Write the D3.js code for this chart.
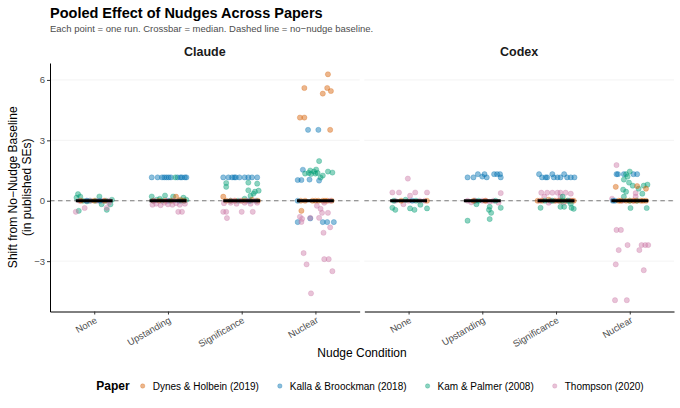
<!DOCTYPE html>
<html>
<head>
<meta charset="utf-8">
<script src="https://cdn.jsdelivr.net/npm/d3@7"></script>
<style>
  body { margin: 0; background: #fff; }
  svg text { font-family: "Liberation Sans", Arial, Helvetica, sans-serif; }
</style>
</head>
<body>
<div id="chart"></div>
<script>
/* DATA */
const models = ["Claude", "Codex"];
const conditions = ["None", "Upstanding", "Significance", "Nuclear"];
const papers = ["Dynes & Holbein (2019)", "Kalla & Broockman (2018)", "Kam & Palmer (2008)", "Thompson (2020)"];
const paperColors = ["#D55E00", "#0072B2", "#009E73", "#CC79A7"];
const yTicks = [-3, 0, 3, 6];

// each row: [condition, paper index, jitter (share of one category step), shift in published SEs]
const claudePoints = [
  // None
  ["None", 2, -0.22, 0.33], ["None", 2, -0.19, 0.21], ["None", 2, -0.24, 0.15], ["None", 2, 0.07, 0.21],
  ["None", 2, -0.10, -0.03], ["None", 2, 0.10, -0.17], ["None", 2, 0.17, -0.45], ["None", 2, 0.22, -0.18],
  ["None", 2, -0.21, -0.5], ["None", 2, 0.16, 0], ["None", 2, -0.06, 0], ["None", 2, 0.24, 0.05],
  ["None", 2, 0.02, 0], ["None", 2, -0.15, 0],
  ["None", 3, -0.25, -0.55], ["None", 3, -0.13, -0.36], ["None", 3, 0.17, -0.35], ["None", 3, -0.2, 0],
  ["None", 3, -0.05, 0], ["None", 3, 0.05, 0], ["None", 3, 0.2, 0], ["None", 3, 0.12, 0],
  ["None", 3, 0.2, -0.1], ["None", 3, -0.1, 0],
  ["None", 0, -0.18, 0], ["None", 0, 0.0, 0], ["None", 0, 0.14, 0],
  ["None", 1, -0.1, 0], ["None", 1, 0.08, 0],
  // Upstanding
  ["Upstanding", 1, -0.22, 1.16], ["Upstanding", 1, -0.14, 1.16], ["Upstanding", 1, -0.08, 1.16], ["Upstanding", 1, -0.05, 1.16],
  ["Upstanding", 1, -0.02, 1.16], ["Upstanding", 1, 0.01, 1.16], ["Upstanding", 1, 0.04, 1.16], ["Upstanding", 1, 0.13, 1.16],
  ["Upstanding", 1, 0.17, 1.16], ["Upstanding", 1, 0.19, 1.16], ["Upstanding", 1, 0.23, 1.16], ["Upstanding", 1, 0.25, 1.16],
  ["Upstanding", 1, -0.2, 0], ["Upstanding", 1, 0.0, 0], ["Upstanding", 1, 0.15, 0], ["Upstanding", 1, 0.22, 0],
  ["Upstanding", 2, 0.10, 1.16], ["Upstanding", 2, -0.22, 0.21], ["Upstanding", 2, -0.04, 0.26], ["Upstanding", 2, 0.07, 0.21],
  ["Upstanding", 2, 0.21, 0.15], ["Upstanding", 2, -0.11, 0.1], ["Upstanding", 2, -0.15, 0.05], ["Upstanding", 2, 0.03, 0],
  ["Upstanding", 2, 0.25, 0.05], ["Upstanding", 2, -0.08, 0], ["Upstanding", 2, 0.18, 0],
  ["Upstanding", 0, 0.11, 0.2], ["Upstanding", 0, 0.17, 0.05], ["Upstanding", 0, -0.04, 0], ["Upstanding", 0, -0.2, 0],
  ["Upstanding", 0, -0.12, 0], ["Upstanding", 0, 0.05, 0], ["Upstanding", 0, 0.22, 0],
  ["Upstanding", 3, -0.21, -0.2], ["Upstanding", 3, -0.16, -0.15], ["Upstanding", 3, -0.1, -0.22], ["Upstanding", 3, -0.05, -0.1],
  ["Upstanding", 3, 0.0, -0.18], ["Upstanding", 3, 0.06, -0.2], ["Upstanding", 3, 0.11, -0.12], ["Upstanding", 3, 0.16, -0.2],
  ["Upstanding", 3, 0.23, -0.15], ["Upstanding", 3, 0.14, -0.55], ["Upstanding", 3, 0.19, -0.55], ["Upstanding", 3, -0.18, 0],
  ["Upstanding", 3, 0.08, 0], ["Upstanding", 3, -0.02, 0],
  // Significance
  ["Significance", 1, -0.25, 1.16], ["Significance", 1, -0.18, 1.16], ["Significance", 1, -0.13, 1.16], ["Significance", 1, -0.1, 1.16],
  ["Significance", 1, -0.08, 1.16], ["Significance", 1, -0.03, 1.16], ["Significance", 1, 0.04, 1.16], ["Significance", 1, 0.09, 1.16],
  ["Significance", 1, 0.14, 1.16], ["Significance", 1, 0.21, 1.16], ["Significance", 1, -0.15, 0], ["Significance", 1, 0.1, 0],
  ["Significance", 2, -0.21, 0.88], ["Significance", 2, -0.21, 0.69], ["Significance", 2, 0.09, 0.9], ["Significance", 2, 0.09, 0.52],
  ["Significance", 2, 0.21, 0.85], ["Significance", 2, 0.18, 0.45], ["Significance", 2, 0.16, 0.35], ["Significance", 2, 0.12, 0.25],
  ["Significance", 2, 0.23, 0.5], ["Significance", 2, 0.04, 0.1], ["Significance", 2, -0.05, 0], ["Significance", 2, 0.2, 0],
  ["Significance", 2, 0.12, 0],
  ["Significance", 0, -0.25, 0.2], ["Significance", 0, -0.21, 0], ["Significance", 0, -0.09, 0], ["Significance", 0, 0.05, 0],
  ["Significance", 0, 0.14, 0.05], ["Significance", 0, -0.15, 0], ["Significance", 0, 0.0, 0], ["Significance", 0, 0.22, 0],
  ["Significance", 3, -0.25, -0.55], ["Significance", 3, -0.21, -0.55], ["Significance", 3, -0.2, -0.86], ["Significance", 3, 0.0, -0.55],
  ["Significance", 3, 0.15, -0.55], ["Significance", 3, -0.24, -0.12], ["Significance", 3, -0.15, -0.1], ["Significance", 3, -0.07, -0.15],
  ["Significance", 3, 0.04, -0.1], ["Significance", 3, 0.12, -0.15], ["Significance", 3, 0.21, -0.1], ["Significance", 3, -0.1, 0],
  ["Significance", 3, 0.08, 0], ["Significance", 3, -0.02, 0], ["Significance", 3, 0.18, 0],
  // Nuclear
  ["Nuclear", 0, 0.17, 6.28], ["Nuclear", 0, -0.15, 5.6], ["Nuclear", 0, 0.16, 5.6], ["Nuclear", 0, 0.10, 5.32],
  ["Nuclear", 0, 0.21, 5.45], ["Nuclear", 0, -0.21, 4.13], ["Nuclear", 0, -0.15, 4.13], ["Nuclear", 0, 0.2, 3.52],
  ["Nuclear", 0, -0.19, -0.5], ["Nuclear", 0, -0.2, 0], ["Nuclear", 0, -0.14, 0], ["Nuclear", 0, -0.04, 0],
  ["Nuclear", 0, 0.04, 0], ["Nuclear", 0, 0.1, 0], ["Nuclear", 0, 0.16, 0], ["Nuclear", 0, 0.22, 0],
  ["Nuclear", 0, 0.0, 0], ["Nuclear", 0, 0.13, 0],
  ["Nuclear", 1, -0.10, 3.52], ["Nuclear", 1, 0.04, 3.52], ["Nuclear", 1, -0.17, 1.54], ["Nuclear", 1, -0.24, 1.03],
  ["Nuclear", 1, -0.19, 1.03], ["Nuclear", 1, -0.08, 1.05], ["Nuclear", 1, 0.05, 1.0], ["Nuclear", 1, -0.24, 0],
  ["Nuclear", 1, -0.24, -1.06], ["Nuclear", 1, 0.10, -1.06], ["Nuclear", 1, 0.16, -1.06], ["Nuclear", 1, 0.25, -1.06],
  ["Nuclear", 1, -0.07, -0.88],
  ["Nuclear", 2, 0.05, 1.97], ["Nuclear", 2, -0.14, 1.35], ["Nuclear", 2, -0.09, 1.38], ["Nuclear", 2, -0.06, 1.33],
  ["Nuclear", 2, -0.02, 1.45], ["Nuclear", 2, 0.0, 1.35], ["Nuclear", 2, 0.03, 1.38], ["Nuclear", 2, 0.07, 1.15],
  ["Nuclear", 2, 0.1, 1.25], ["Nuclear", 2, 0.17, 1.45], ["Nuclear", 2, 0.23, 1.4], ["Nuclear", 2, 0.01, 1.55],
  ["Nuclear", 2, -0.07, 1.5],
  ["Nuclear", 3, -0.21, -0.8], ["Nuclear", 3, -0.19, -1.05], ["Nuclear", 3, -0.18, -0.9], ["Nuclear", 3, -0.07, -0.85],
  ["Nuclear", 3, 0.05, -0.85], ["Nuclear", 3, 0.09, -0.6], ["Nuclear", 3, 0.17, -0.6], ["Nuclear", 3, 0.2, -1.32],
  ["Nuclear", 3, 0.11, -1.59], ["Nuclear", 3, 0.02, -0.25], ["Nuclear", 3, 0.07, -0.4], ["Nuclear", 3, -0.16, -2.6],
  ["Nuclear", 3, -0.12, -3.16], ["Nuclear", 3, 0.12, -2.9], ["Nuclear", 3, 0.18, -2.9], ["Nuclear", 3, 0.23, -3.5],
  ["Nuclear", 3, -0.06, -4.6], ["Nuclear", 3, 0.2, 0], ["Nuclear", 3, 0.12, -0.1]
];

const codexPoints = [
  // None
  ["None", 3, -0.01, 1.1], ["None", 3, -0.22, 0.41], ["None", 3, -0.13, 0.41], ["None", 3, 0.09, 0.41],
  ["None", 3, 0.25, 0.41], ["None", 3, 0.02, 0.25], ["None", 3, -0.07, -0.17], ["None", 3, -0.18, 0],
  ["None", 3, 0.0, 0], ["None", 3, 0.15, 0], ["None", 3, 0.22, 0],
  ["None", 2, -0.22, -0.35], ["None", 2, -0.18, -0.45], ["None", 2, 0.02, -0.38], ["None", 2, 0.08, -0.45],
  ["None", 2, 0.25, -0.38], ["None", 2, 0.16, -0.2], ["None", 2, -0.2, 0], ["None", 2, -0.04, 0.05],
  ["None", 2, 0.1, 0],
  ["None", 0, 0.25, 0], ["None", 0, -0.1, 0],
  ["None", 1, 0.05, 0],
  // Upstanding
  ["Upstanding", 1, -0.2, 1.16], ["Upstanding", 1, -0.12, 1.16], ["Upstanding", 1, -0.06, 1.32], ["Upstanding", 1, 0.0, 1.2],
  ["Upstanding", 1, 0.03, 1.32], ["Upstanding", 1, 0.06, 1.16], ["Upstanding", 1, 0.16, 1.32], ["Upstanding", 1, 0.2, 1.32],
  ["Upstanding", 1, 0.24, 1.32], ["Upstanding", 1, 0.25, 1.16], ["Upstanding", 1, -0.1, 0],
  ["Upstanding", 3, 0.25, 0.38], ["Upstanding", 3, -0.2, 0], ["Upstanding", 3, -0.1, 0], ["Upstanding", 3, 0.05, 0],
  ["Upstanding", 3, 0.15, 0], ["Upstanding", 3, 0.22, -0.1], ["Upstanding", 3, -0.15, -0.08], ["Upstanding", 3, 0.1, -0.05],
  ["Upstanding", 3, 0.0, 0],
  ["Upstanding", 2, -0.2, -0.99], ["Upstanding", 2, 0.1, -0.91], ["Upstanding", 2, 0.1, -0.3], ["Upstanding", 2, 0.12, -0.6],
  ["Upstanding", 2, 0.09, -0.45], ["Upstanding", 2, -0.08, -0.17], ["Upstanding", 2, 0.25, -0.35], ["Upstanding", 2, -0.05, 0],
  ["Upstanding", 2, 0.18, 0],
  ["Upstanding", 0, 0.04, 0], ["Upstanding", 0, -0.12, 0],
  // Significance
  ["Significance", 1, -0.23, 1.32], ["Significance", 1, -0.19, 1.16], ["Significance", 1, -0.14, 1.16], ["Significance", 1, -0.12, 1.16],
  ["Significance", 1, -0.05, 1.32], ["Significance", 1, -0.03, 1.16], ["Significance", 1, 0.02, 1.16], ["Significance", 1, 0.06, 1.16],
  ["Significance", 1, 0.11, 1.32], ["Significance", 1, 0.15, 1.16], ["Significance", 1, 0.2, 1.16], ["Significance", 1, 0.25, 1.16],
  ["Significance", 1, -0.08, 0], ["Significance", 1, 0.18, 0], ["Significance", 1, 0.05, 0],
  ["Significance", 3, -0.2, 0.4], ["Significance", 3, -0.12, 0.4], ["Significance", 3, -0.05, 0.4], ["Significance", 3, 0.02, 0.4],
  ["Significance", 3, 0.06, 0.4], ["Significance", 3, 0.13, 0.4], ["Significance", 3, 0.2, 0.35], ["Significance", 3, -0.16, 0.2],
  ["Significance", 3, 0.06, 0.2], ["Significance", 3, -0.1, -0.1], ["Significance", 3, 0.1, -0.1], ["Significance", 3, -0.22, 0],
  ["Significance", 3, 0.0, 0], ["Significance", 3, 0.22, 0], ["Significance", 3, -0.06, 0], ["Significance", 3, 0.16, 0],
  ["Significance", 0, -0.19, 0], ["Significance", 0, -0.1, 0.05], ["Significance", 0, 0.13, 0], ["Significance", 0, 0.04, 0],
  ["Significance", 0, -0.02, 0], ["Significance", 0, 0.2, 0], ["Significance", 0, -0.25, 0], ["Significance", 0, 0.08, 0],
  ["Significance", 0, 0.24, 0],
  ["Significance", 2, -0.21, -0.35], ["Significance", 2, 0.06, -0.3], ["Significance", 2, 0.11, -0.3], ["Significance", 2, 0.21, -0.35],
  ["Significance", 2, 0.24, -0.4], ["Significance", 2, 0.09, 0.2], ["Significance", 2, 0.2, -0.15], ["Significance", 2, 0.09, 0],
  ["Significance", 2, -0.15, 0], ["Significance", 2, -0.05, 0], ["Significance", 2, 0.16, 0],
  // Nuclear
  ["Nuclear", 3, -0.18, 1.77], ["Nuclear", 3, 0.08, 0.38], ["Nuclear", 3, -0.18, -1.45], ["Nuclear", 3, -0.12, -1.45],
  ["Nuclear", 3, -0.03, -2.2], ["Nuclear", 3, 0.16, -2.2], ["Nuclear", 3, 0.21, -2.2], ["Nuclear", 3, 0.25, -2.2],
  ["Nuclear", 3, -0.15, -2.45], ["Nuclear", 3, 0.13, -2.45], ["Nuclear", 3, -0.19, -3.16], ["Nuclear", 3, 0.19, -3.45],
  ["Nuclear", 3, -0.2, -4.94], ["Nuclear", 3, -0.04, -4.94], ["Nuclear", 3, -0.24, 0.1], ["Nuclear", 3, 0.08, 0.2],
  ["Nuclear", 3, 0.05, 0], ["Nuclear", 3, -0.1, 0],
  ["Nuclear", 1, -0.18, 1.32], ["Nuclear", 1, -0.16, 1.32], ["Nuclear", 1, -0.08, 1.32], ["Nuclear", 1, 0.05, 1.32],
  ["Nuclear", 1, 0.1, 1.32], ["Nuclear", 1, -0.23, 0], ["Nuclear", 1, -0.2, 0],
  ["Nuclear", 2, 0.0, 1.45], ["Nuclear", 2, -0.05, 1.32], ["Nuclear", 2, -0.03, 1.2], ["Nuclear", 2, -0.08, 1.05],
  ["Nuclear", 2, -0.01, 0.9], ["Nuclear", 2, 0.04, 0.75], ["Nuclear", 2, -0.09, 0.55], ["Nuclear", 2, -0.05, 0.45],
  ["Nuclear", 2, -0.08, 0.2], ["Nuclear", 2, 0.19, 0.75], ["Nuclear", 2, 0.24, 0.8], ["Nuclear", 2, 0.17, 0.35],
  ["Nuclear", 2, 0.01, -0.36], ["Nuclear", 2, 0.23, -0.36], ["Nuclear", 2, 0.12, 0.6], ["Nuclear", 2, 0.0, 0],
  ["Nuclear", 2, 0.1, 0],
  ["Nuclear", 0, -0.19, 0.69], ["Nuclear", 0, 0.1, 0.73], ["Nuclear", 0, 0.22, 0.6], ["Nuclear", 0, -0.15, 0],
  ["Nuclear", 0, -0.05, 0], ["Nuclear", 0, 0.05, 0], ["Nuclear", 0, 0.15, 0], ["Nuclear", 0, 0.22, 0],
  ["Nuclear", 0, -0.12, 0], ["Nuclear", 0, 0.0, 0], ["Nuclear", 0, 0.18, 0], ["Nuclear", 0, 0.09, 0]
];

const pointsByModel = [claudePoints, codexPoints];

/* LAYOUT */
const width = 680,
  height = 408,
  margin = { top: 63, bottom: 96.5, left: 50, right: 6 },
  panelGap = 4.7,
  panelW = (width - margin.left - margin.right - panelGap) / 2;

const svg = d3.select("#chart")
  .append("svg")
  .attr("width", width)
  .attr("height", height);

// y scale shared by both panels, 5% padding like ggplot
const allShifts = claudePoints.concat(codexPoints).map(d => d[3]);
const [yMin, yMax] = d3.extent(allShifts);
const yPad = (yMax - yMin) * 0.05;
const yScale = d3.scaleLinear()
  .domain([yMin - yPad, yMax + yPad])
  .range([height - margin.bottom, margin.top]);

/* TITLES */
svg.append("text")
  .attr("x", 50).attr("y", 18)
  .attr("font-size", 14.5).attr("font-weight", "bold").attr("fill", "#000")
  .text("Pooled Effect of Nudges Across Papers");

svg.append("text")
  .attr("x", 50).attr("y", 32)
  .attr("font-size", 9.5).attr("fill", "#4d4d4d")
  .text("Each point = one run. Crossbar = median. Dashed line = no\u2212nudge baseline.");

/* PANELS */
models.forEach((model, i) => {
  const g = svg.append("g")
    .attr("transform", `translate(${margin.left + i * (panelW + panelGap)},0)`);

  const xScale = d3.scalePoint()
    .domain(conditions)
    .range([0, panelW])
    .padding(0.6);
  const step = xScale.step();

  // strip label
  g.append("text")
    .attr("x", panelW / 2).attr("y", 56)
    .attr("text-anchor", "middle")
    .attr("font-size", 12.5).attr("font-weight", "bold").attr("fill", "#1a1a1a")
    .text(model);

  // grid
  g.selectAll("line.grid")
    .data(yTicks)
    .join("line")
    .attr("class", "grid")
    .attr("x1", 0).attr("x2", panelW)
    .attr("y1", d => yScale(d)).attr("y2", d => yScale(d))
    .attr("stroke", "#ebebeb").attr("stroke-width", 0.6);

  // no-nudge baseline
  g.append("line")
    .attr("x1", 0).attr("x2", panelW)
    .attr("y1", yScale(0)).attr("y2", yScale(0))
    .attr("stroke", "#7a7a7a").attr("stroke-width", 1.2)
    .attr("stroke-dasharray", "4.5,3.5");

  // points
  const pts = pointsByModel[i];
  g.selectAll("circle.pt")
    .data(pts)
    .join("circle")
    .attr("class", "pt")
    .attr("cx", d => xScale(d[0]) + d[2] * step)
    .attr("cy", d => yScale(d[3]))
    .attr("r", 2.6)
    .attr("fill", d => paperColors[d[1]])
    .attr("fill-opacity", 0.45)
    .attr("stroke", d => paperColors[d[1]])
    .attr("stroke-opacity", 0.45)
    .attr("stroke-width", 0.6);

  // median crossbars
  const medians = conditions.map(c => ({
    cond: c,
    med: d3.median(pts.filter(d => d[0] === c), d => d[3])
  }));
  g.selectAll("line.med")
    .data(medians)
    .join("line")
    .attr("class", "med")
    .attr("x1", d => xScale(d.cond) - step * 0.25)
    .attr("x2", d => xScale(d.cond) + step * 0.25)
    .attr("y1", d => yScale(d.med)).attr("y2", d => yScale(d.med))
    .attr("stroke", "#000").attr("stroke-width", 3);

  // x axis
  const xAxis = g.append("g")
    .attr("transform", `translate(0,${height - margin.bottom})`)
    .call(d3.axisBottom(xScale).tickSize(3).tickSizeOuter(0));
  xAxis.select(".domain").attr("stroke", "#000").attr("stroke-width", 1);
  xAxis.selectAll(".tick line").attr("stroke", "#333");
  xAxis.selectAll(".tick text")
    .attr("font-size", 9.5).attr("fill", "#4d4d4d")
    .attr("text-anchor", "end")
    .attr("x", null).attr("y", null).attr("dy", null)
    .attr("transform", "translate(3,10.5) rotate(-30)");

  // y axis, left panel only
  if (i === 0) {
    const yAxis = g.append("g")
      .call(d3.axisLeft(yScale).tickValues(yTicks).tickSize(3).tickSizeOuter(0).tickPadding(2).tickFormat(d3.format("d")));
    yAxis.select(".domain").attr("stroke", "#000").attr("stroke-width", 1);
    yAxis.selectAll(".tick line").attr("stroke", "#333");
    yAxis.selectAll(".tick text").attr("font-size", 9.5).attr("fill", "#4d4d4d");
  }
});

/* AXIS TITLES */
const midY = (margin.top + height - margin.bottom) / 2;
svg.append("text")
  .attr("transform", `translate(17,${midY}) rotate(-90)`)
  .attr("text-anchor", "middle").attr("font-size", 12).attr("fill", "#000")
  .text("Shift from No\u2212Nudge Baseline");
svg.append("text")
  .attr("transform", `translate(31,${midY}) rotate(-90)`)
  .attr("text-anchor", "middle").attr("font-size", 12).attr("fill", "#000")
  .text("(in published SEs)");

svg.append("text")
  .attr("x", (margin.left + width - margin.right) / 2).attr("y", 357)
  .attr("text-anchor", "middle").attr("font-size", 12).attr("fill", "#000")
  .text("Nudge Condition");

/* LEGEND */
const legend = svg.append("g").attr("transform", "translate(0,386)");
const legTitle = legend.append("text")
  .attr("x", 0).attr("dy", "0.35em")
  .attr("font-size", 12).attr("font-weight", "bold")
  .text("Paper");
let cursor = legTitle.node().getComputedTextLength() + 13;
papers.forEach((p, k) => {
  legend.append("circle")
    .attr("cx", cursor).attr("cy", 0).attr("r", 2.2)
    .attr("fill", paperColors[k]).attr("fill-opacity", 0.45)
    .attr("stroke", paperColors[k]).attr("stroke-opacity", 0.45).attr("stroke-width", 0.6);
  const t = legend.append("text")
    .attr("x", cursor + 10).attr("dy", "0.35em")
    .attr("font-size", 10).attr("fill", "#000")
    .text(p);
  cursor += 10 + t.node().getComputedTextLength() + 21;
});
const legendW = cursor - 21;
legend.attr("transform", `translate(${370 - legendW / 2},386)`);
</script>
</body>
</html>
